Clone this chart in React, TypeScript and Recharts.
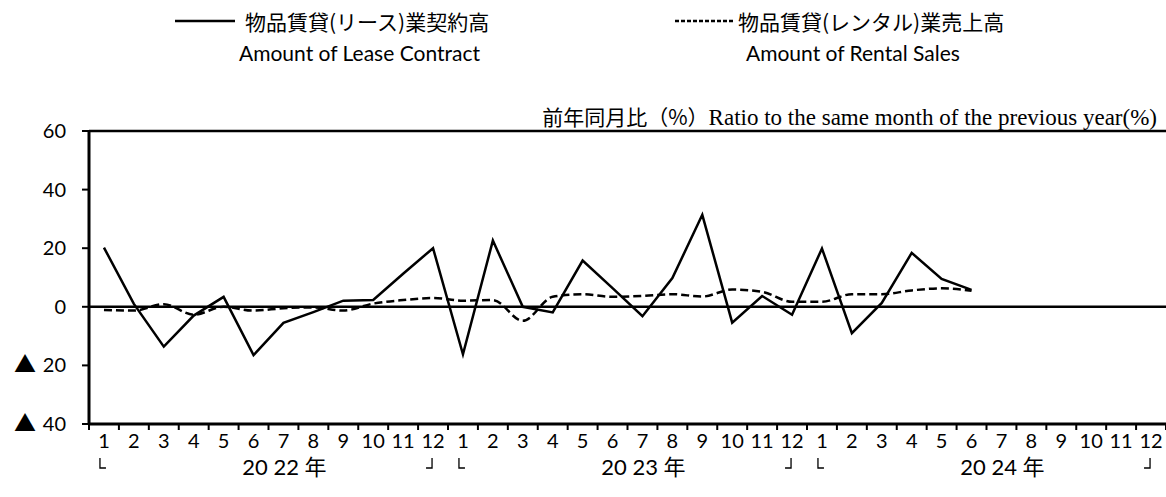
import { LineChart, Line, XAxis, YAxis, ReferenceLine } from "recharts";

const MONTHS = [1, 2, 3, 4, 5, 6, 7, 8, 9, 10, 11, 12];
const YEARS = ["20 22 年", "20 23 年", "20 24 年"];

// 前年同月比 (%)
const LEASE = [
  20.2, 1.0, -13.6, -3.0, 3.4, -16.5, -5.5, -1.8, 2.1, 2.3, 11.3, 20.0,
  -16.2, 22.6, 0.0, -1.9, 15.8, 6.4, -3.2, 9.8, 31.4, -5.4, 3.7, -2.7,
  19.9, -9.0, 1.3, 18.4, 9.5, 5.8, null, null, null, null, null, null,
];
const RENTAL = [
  -1.1, -1.3, 0.9, -2.7, 0.0, -1.3, -0.5, -0.2, -1.3, 1.1, 2.3, 3.0,
  2.1, 2.3, -4.8, 3.4, 4.3, 3.4, 3.7, 4.3, 3.5, 5.9, 5.1, 1.7,
  1.7, 4.3, 4.3, 5.6, 6.3, 5.5, null, null, null, null, null, null,
];

const Y_TICKS = [-40, -20, 0, 20, 40, 60];

const SERIES = [
  { key: "lease", jp: "物品賃貸(リース)業契約高", en: "Amount of Lease Contract", dash: undefined },
  { key: "rental", jp: "物品賃貸(レンタル)業売上高", en: "Amount of Rental Sales", dash: "8 4" },
];

const data = LEASE.map((v, i) => ({
  idx: i + 1,
  month: MONTHS[i % 12],
  lease: v,
  rental: RENTAL[i],
}));

const W = 1166;
const H = 497;
const TOP = 131;
const LEFT = 89;
const XAXIS_H = 73;
const PLOT_BOTTOM = H - XAXIS_H;
const BW = (W - LEFT) / 36;

const LATIN = "Lato, 'Noto Sans CJK JP', sans-serif";
const JP = "'Noto Sans CJK JP', sans-serif";

function MonthTick(props: any) {
  const { x, payload } = props;
  const i = payload.value - 1;
  const m = MONTHS[i % 12];
  const yr = Math.floor(i / 12);
  return (
    <g>
      <line x1={x - BW / 2} x2={x - BW / 2} y1={PLOT_BOTTOM} y2={PLOT_BOTTOM + 6} stroke="#000" strokeWidth={2} />
      {i === 35 && (
        <line x1={x + BW / 2} x2={x + BW / 2} y1={PLOT_BOTTOM} y2={PLOT_BOTTOM + 6} stroke="#000" strokeWidth={2} />
      )}
      <text x={x} y={448} textAnchor="middle" fontSize={20} fontFamily={LATIN} fill="#000">
        {m}
      </text>
      {m === 1 && (
        <path d={`M${x - 4},${458} V${468} H${x + 2}`} fill="none" stroke="#000" strokeWidth={1.3} />
      )}
      {m === 12 && (
        <path d={`M${x - 7},${468} H${x - 1} V${458}`} fill="none" stroke="#000" strokeWidth={1.3} />
      )}
      {m === 7 && (
        <text x={x + 1} y={475} textAnchor="middle" fontSize={22} fontFamily={LATIN} fill="#000">
          {YEARS[yr]}
        </text>
      )}
    </g>
  );
}

function YTick(props: any) {
  const { x, y, payload } = props;
  const v = payload.value;
  return (
    <g>
      {v < 0 && (
        <text x={x - 30} y={y + 7} textAnchor="end" fontSize={22} fontFamily={JP} fill="#000">
          ▲
        </text>
      )}
      <text x={x} y={y + 7} textAnchor="end" fontSize={20} fontFamily={LATIN} fill="#000">
        {Math.abs(v)}
      </text>
    </g>
  );
}

function LegendBlock() {
  const pos = [
    { lineX: 175, lineW: 60, textX: 245, enX: 239 },
    { lineX: 675, lineW: 58, textX: 738, enX: 746 },
  ];
  return (
    <>
      {SERIES.map((s, i) => (
        <div key={s.key}>
          <svg
            width={pos[i].lineW}
            height={6}
            style={{ position: "absolute", left: pos[i].lineX, top: 18 }}
          >
            <line x1={0} x2={pos[i].lineW} y1={3} y2={3} stroke="#000" strokeWidth={2.5} strokeDasharray={s.dash ? "4 2" : undefined} />
          </svg>
          <div
            style={{
              position: "absolute",
              left: pos[i].textX,
              top: 6,
              fontSize: 21,
              lineHeight: "30px",
              fontFamily: JP,
              whiteSpace: "nowrap",
            }}
          >
            {s.jp}
          </div>
          <div
            style={{
              position: "absolute",
              left: pos[i].enX,
              top: 39,
              fontSize: 21,
              lineHeight: "28px",
              fontFamily: LATIN,
              whiteSpace: "nowrap",
            }}
          >
            {s.en}
          </div>
        </div>
      ))}
    </>
  );
}

export default function App() {
  return (
    <div style={{ position: "absolute", left: 0, top: 0, width: W, height: H, background: "#fff", overflow: "hidden" }}>
      <LegendBlock />
      <div
        style={{
          position: "absolute",
          right: W - 1157,
          top: 102,
          whiteSpace: "nowrap",
          lineHeight: "28px",
        }}
      >
        <span style={{ fontFamily: JP, fontSize: 21 }}>前年同月比（%）</span>
        <span style={{ fontFamily: "'Liberation Serif', serif", fontSize: 23 }}>
          Ratio to the same month of the previous year(%)
        </span>
      </div>
      <div style={{ position: "absolute", left: 0, top: 0 }}>
        <LineChart width={W} height={H} data={data} margin={{ top: TOP, right: 0, left: 9, bottom: 0 }}>
          <XAxis
            dataKey="idx"
            type="number"
            domain={[0.5, 36.5]}
            ticks={data.map((d) => d.idx)}
            interval={0}
            height={XAXIS_H}
            tickLine={false}
            axisLine={{ stroke: "#000", strokeWidth: 3 }}
            tick={<MonthTick />}
          />
          <YAxis
            type="number"
            domain={[-40, 60]}
            ticks={Y_TICKS}
            width={80}
            tickSize={7}
            tickMargin={16}
            tickLine={{ stroke: "#000", strokeWidth: 2 }}
            axisLine={{ stroke: "#000", strokeWidth: 3 }}
            tick={<YTick />}
          />
          <ReferenceLine y={60} stroke="#000" strokeWidth={2.5} />
          <ReferenceLine y={0} stroke="#000" strokeWidth={2.5} />
          <Line
            dataKey="rental"
            type="monotone"
            stroke="#000"
            strokeWidth={2.5}
            strokeDasharray="8 4"
            dot={false}
            connectNulls={false}
            isAnimationActive={false}
          />
          <Line
            dataKey="lease"
            type="linear"
            stroke="#000"
            strokeWidth={2.5}
            dot={false}
            connectNulls={false}
            isAnimationActive={false}
          />
        </LineChart>
      </div>
    </div>
  );
}
